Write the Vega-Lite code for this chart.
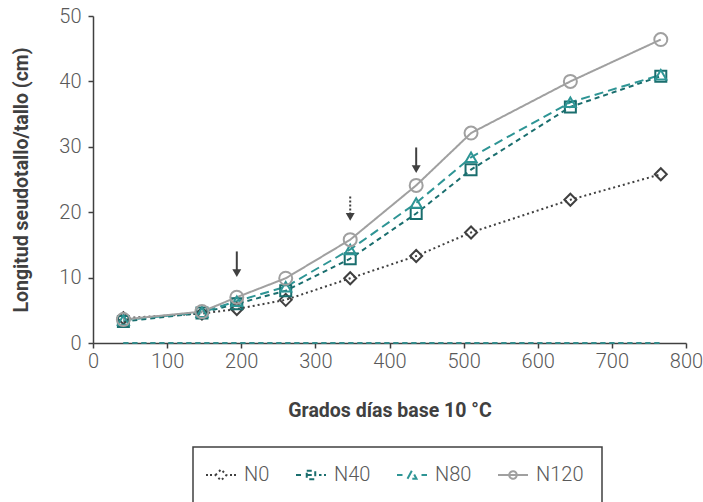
{
  "$schema": "https://vega.github.io/schema/vega-lite/v6.json",
  "width": 593,
  "height": 327,
  "autosize": {"type": "none"},
  "padding": {"left": 93, "top": 16, "right": 17, "bottom": 159},
  "background": "white",
  "config": {
    "view": {"stroke": null},
    "font": "Roboto",
    "axis": {
      "grid": false,
      "domainColor": "#404040",
      "domainWidth": 1.5,
      "tickColor": "#404040",
      "tickWidth": 1.5,
      "tickSize": 5,
      "labelFont": "Roboto",
      "labelFontWeight": 300,
      "labelFontSize": 20,
      "labelColor": "#595959",
      "labelFlush": false,
      "titleFont": "Roboto",
      "titleFontWeight": "bold",
      "titleFontSize": 19.5,
      "titleColor": "#404040"
    },
    "legend": {
      "orient": "none",
      "legendX": 100,
      "legendY": 431,
      "direction": "horizontal",
      "strokeColor": "#404040",
      "strokeWidth": 1.5,
      "padding": 18,
      "labelFont": "Roboto",
      "labelFontWeight": 300,
      "labelFontSize": 20,
      "labelColor": "#595959",
      "labelOffset": 13,
      "columnPadding": 22,
      "symbolStrokeWidth": 2,
      "symbolSize": 100,
      "symbolFillColor": "transparent",
      "symbolOpacity": 1
    }
  },
  "datasets": {
    "medidas": [
      {"gdd": 41, "longitud": 3.8, "serie": "N0"},
      {"gdd": 147, "longitud": 4.5, "serie": "N0"},
      {"gdd": 194, "longitud": 5.2, "serie": "N0"},
      {"gdd": 260, "longitud": 6.6, "serie": "N0"},
      {"gdd": 347, "longitud": 9.9, "serie": "N0"},
      {"gdd": 436, "longitud": 13.3, "serie": "N0"},
      {"gdd": 510, "longitud": 16.9, "serie": "N0"},
      {"gdd": 644, "longitud": 21.9, "serie": "N0"},
      {"gdd": 766, "longitud": 25.8, "serie": "N0"},
      {"gdd": 41, "longitud": 3.3, "serie": "N40"},
      {"gdd": 147, "longitud": 4.6, "serie": "N40"},
      {"gdd": 194, "longitud": 6.0, "serie": "N40"},
      {"gdd": 260, "longitud": 8.0, "serie": "N40"},
      {"gdd": 347, "longitud": 12.9, "serie": "N40"},
      {"gdd": 436, "longitud": 19.8, "serie": "N40"},
      {"gdd": 510, "longitud": 26.5, "serie": "N40"},
      {"gdd": 644, "longitud": 36.1, "serie": "N40"},
      {"gdd": 766, "longitud": 40.8, "serie": "N40"},
      {"gdd": 41, "longitud": 3.5, "serie": "N80"},
      {"gdd": 147, "longitud": 4.7, "serie": "N80"},
      {"gdd": 194, "longitud": 6.4, "serie": "N80"},
      {"gdd": 260, "longitud": 8.6, "serie": "N80"},
      {"gdd": 347, "longitud": 14.3, "serie": "N80"},
      {"gdd": 436, "longitud": 21.4, "serie": "N80"},
      {"gdd": 510, "longitud": 28.4, "serie": "N80"},
      {"gdd": 644, "longitud": 36.8, "serie": "N80"},
      {"gdd": 766, "longitud": 41.0, "serie": "N80"},
      {"gdd": 41, "longitud": 3.6, "serie": "N120"},
      {"gdd": 147, "longitud": 4.8, "serie": "N120"},
      {"gdd": 194, "longitud": 7.0, "serie": "N120"},
      {"gdd": 260, "longitud": 9.9, "serie": "N120"},
      {"gdd": 347, "longitud": 15.8, "serie": "N120"},
      {"gdd": 436, "longitud": 24.1, "serie": "N120"},
      {"gdd": 510, "longitud": 32.1, "serie": "N120"},
      {"gdd": 644, "longitud": 40.0, "serie": "N120"},
      {"gdd": 766, "longitud": 46.4, "serie": "N120"}
    ],
    "base": [
      {"gdd": 41, "longitud": 0, "serie": "N40"},
      {"gdd": 766, "longitud": 0, "serie": "N40"},
      {"gdd": 41, "longitud": 0, "serie": "N80"},
      {"gdd": 766, "longitud": 0, "serie": "N80"}
    ],
    "flechas": [
      {"gdd": 194, "desde": 14.0, "hasta": 10.7, "tipo": "solida"},
      {"gdd": 347, "desde": 22.4, "hasta": 19.3, "tipo": "punteada"},
      {"gdd": 436, "desde": 29.9, "hasta": 26.6, "tipo": "solida"}
    ]
  },
  "encoding": {
    "x": {
      "field": "gdd",
      "type": "quantitative",
      "scale": {"domain": [0, 800], "nice": false},
      "axis": {
        "values": [0, 100, 200, 300, 400, 500, 600, 700, 800],
        "labelPadding": 3,
        "title": "Grados días base 10 °C",
        "titlePadding": 30
      }
    }
  },
  "layer": [
    {
      "data": {"name": "base"},
      "mark": {"type": "line", "strokeWidth": 2, "opacity": 0.8},
      "encoding": {
        "y": {"field": "longitud", "type": "quantitative"},
        "detail": {"field": "serie"},
        "color": {"value": "#2e8a8a"},
        "strokeDash": {"value": [5, 4]}
      }
    },
    {
      "data": {"name": "medidas"},
      "mark": {"type": "line", "strokeWidth": 2},
      "encoding": {
        "y": {
          "field": "longitud",
          "type": "quantitative",
          "scale": {"domain": [0, 50], "nice": false},
          "axis": {
            "values": [0, 10, 20, 30, 40, 50],
            "labelPadding": 7,
            "title": "Longitud seudotallo/tallo  (cm)",
            "titlePadding": 27
          }
        },
        "color": {
          "field": "serie",
          "type": "nominal",
          "sort": ["N0", "N40", "N80", "N120"],
          "scale": {"domain": ["N0", "N40", "N80", "N120"], "range": ["#404040", "#1a6e6e", "#2e9595", "#a0a0a0"]},
          "legend": {"title": null}
        },
        "strokeDash": {
          "field": "serie",
          "type": "nominal",
          "sort": ["N0", "N40", "N80", "N120"],
          "scale": {"domain": ["N0", "N40", "N80", "N120"], "range": [[2, 3], [5, 4], [9, 5], [1, 0]]},
          "legend": null
        }
      }
    },
    {
      "data": {"name": "medidas"},
      "transform": [{"filter": "datum.serie == 'N0'"}],
      "mark": {"type": "point", "shape": "diamond", "size": 144, "filled": false, "strokeWidth": 2, "opacity": 1},
      "encoding": {
        "y": {"field": "longitud", "type": "quantitative"},
        "color": {"field": "serie", "type": "nominal", "legend": {"title": null}}
      }
    },
    {
      "data": {"name": "medidas"},
      "transform": [{"filter": "datum.serie == 'N40'"}],
      "mark": {"type": "point", "shape": "square", "size": 121, "filled": false, "strokeWidth": 2, "opacity": 1},
      "encoding": {
        "y": {"field": "longitud", "type": "quantitative"},
        "color": {"field": "serie", "type": "nominal", "legend": {"title": null}}
      }
    },
    {
      "data": {"name": "medidas"},
      "transform": [{"filter": "datum.serie == 'N80'"}],
      "mark": {"type": "point", "shape": "triangle-up", "size": 121, "filled": false, "strokeWidth": 2, "opacity": 1},
      "encoding": {
        "y": {"field": "longitud", "type": "quantitative"},
        "color": {"field": "serie", "type": "nominal", "legend": {"title": null}}
      }
    },
    {
      "data": {"name": "medidas"},
      "transform": [{"filter": "datum.serie == 'N120'"}],
      "mark": {"type": "point", "shape": "circle", "size": 169, "filled": false, "strokeWidth": 2, "opacity": 1},
      "encoding": {
        "y": {"field": "longitud", "type": "quantitative"},
        "color": {"field": "serie", "type": "nominal", "legend": {"title": null}}
      }
    },
    {
      "data": {"name": "medidas"},
      "mark": {"type": "point", "filled": false, "strokeWidth": 2, "opacity": 0},
      "encoding": {
        "y": {"field": "longitud", "type": "quantitative"},
        "color": {"field": "serie", "type": "nominal", "legend": {"title": null}},
        "shape": {
          "field": "serie",
          "type": "nominal",
          "sort": ["N0", "N40", "N80", "N120"],
          "scale": {
            "domain": ["N0", "N40", "N80", "N120"],
            "range": [
              "M-3,0H-2.6M-2.2,0H-1.8M-1.1,0L0,-1.1L1.1,0L0,1.1ZM1.8,0H2.2M2.6,0H3",
              "M-3,0H-1.9M-0.85,-0.85H0.85V0.85H-0.85ZM-0.85,0H0.85M1.6,0H2.1M2.6,0H3",
              "M-3,0H-1.9M-0.9,0.75L0,-0.9L0.9,0.75ZM1.9,0H3",
              "M-3,0H3M0.75,0A0.75,0.75 0 1,1 -0.75,0A0.75,0.75 0 1,1 0.75,0Z"
            ]
          },
          "legend": {"title": null, "symbolOpacity": 1}
        }
      }
    },
    {
      "data": {"name": "flechas"},
      "transform": [{"filter": "datum.tipo == 'solida'"}],
      "mark": {"type": "rule", "strokeWidth": 2, "color": "#404040"},
      "encoding": {
        "y": {"field": "desde", "type": "quantitative"},
        "y2": {"field": "hasta"}
      }
    },
    {
      "data": {"name": "flechas"},
      "transform": [{"filter": "datum.tipo == 'punteada'"}],
      "mark": {"type": "rule", "strokeWidth": 2, "color": "#404040", "strokeDash": [2, 2]},
      "encoding": {
        "y": {"field": "desde", "type": "quantitative"},
        "y2": {"field": "hasta"}
      }
    },
    {
      "data": {"name": "flechas"},
      "mark": {"type": "point", "shape": "triangle-down", "filled": true, "color": "#404040", "size": 80, "opacity": 1},
      "encoding": {
        "y": {"field": "hasta", "type": "quantitative"}
      }
    }
  ]
}
